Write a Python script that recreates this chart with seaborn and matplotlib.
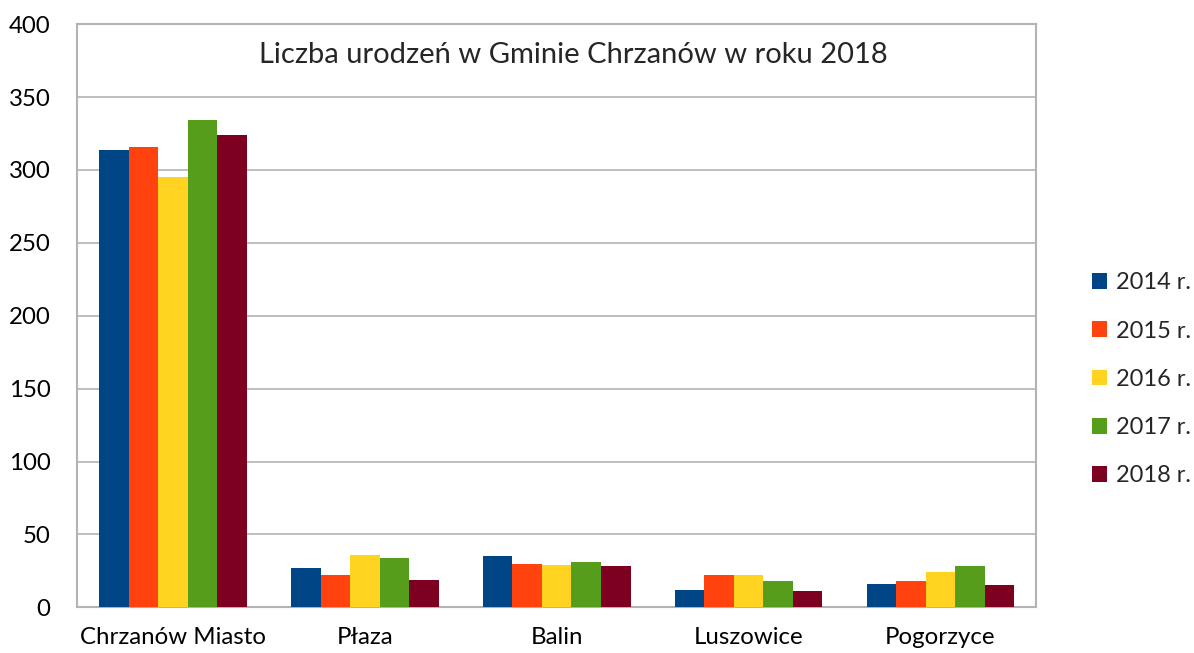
import matplotlib
matplotlib.use('Agg')
import matplotlib.pyplot as plt
import seaborn as sns
import pandas as pd

# data
gminy = ['Chrzanów Miasto', 'Płaza', 'Balin', 'Luszowice', 'Pogorzyce']
lata = ['2014 r.', '2015 r.', '2016 r.', '2017 r.', '2018 r.']
u2014 = [314, 27, 35, 12, 16]
u2015 = [316, 22, 30, 22, 18]
u2016 = [295, 36, 29, 22, 24]
u2017 = [334, 34, 31, 18, 28]
u2018 = [324, 19, 28, 11, 15]
kolory = ['#004586', '#ff420e', '#ffd320', '#579d1c', '#7e0021']

rows = []
for rok, vals in zip(lata, [u2014, u2015, u2016, u2017, u2018]):
    for g, v in zip(gminy, vals):
        rows.append({'Gmina': g, 'Rok': rok, 'Urodzenia': v})
df = pd.DataFrame(rows)

sns.set_style('white')
plt.rcParams['font.family'] = ['Lato', 'DejaVu Sans']

fig = plt.figure(figsize=(11.94, 6.53), dpi=100)
ax = fig.add_axes([0.0645, 0.070, 0.8035, 0.893])

sns.barplot(data=df, x='Gmina', y='Urodzenia', hue='Rok', order=gminy,
            hue_order=lata, palette=kolory, width=0.77, saturation=1,
            edgecolor='none', ax=ax, zorder=3)

ax.set_ylim(0, 400)
ax.set_xlim(-0.5, 4.5)
ax.set_yticks(range(0, 401, 50))
ax.yaxis.grid(True, color='#b3b3b3', lw=1.2, zorder=0)
ax.set_axisbelow(True)
for s in ax.spines.values():
    s.set_color('#b3b3b3')
    s.set_linewidth(1.5)
ax.tick_params(axis='both', length=0, labelsize=17.3, colors='black')
ax.tick_params(axis='x', pad=14)
ax.tick_params(axis='y', pad=19)
ax.set_xlabel('')
ax.set_ylabel('')

ax.text(0.517, 0.947, 'Liczba urodzeń w Gminie Chrzanów w roku 2018',
        transform=ax.transAxes, ha='center', va='center', fontsize=21)

ax.legend(loc='center left', bbox_to_anchor=(1.058, 0.391), frameon=False,
          fontsize=17, handlelength=0.65, handleheight=0.65, handletextpad=0.35,
          labelspacing=1.15, borderpad=0, borderaxespad=0)

fig.savefig('out.png', dpi=100)
